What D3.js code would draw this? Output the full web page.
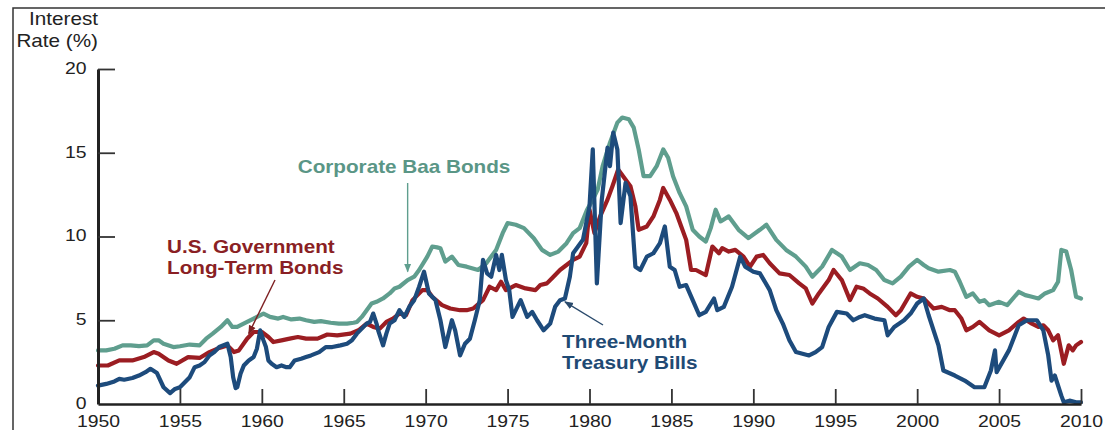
<!DOCTYPE html>
<html>
<head>
<meta charset="utf-8">
<script src="https://d3js.org/d3.v7.min.js"></script>
<style>
  body { margin: 0; background: #fff; }
  svg { display: block; font-family: Arial, "Liberation Sans", Helvetica, sans-serif; }
  .axis text { font-size: 17px; fill: #222; }
  .rate { fill: none; stroke-width: 4.2; stroke-linejoin: round; stroke-linecap: round; }
  .note { font-weight: bold; font-size: 18px; }
</style>
</head>
<body>
<script>
// yield series, [year, percent]
var baa = [[1950.0,3.2],[1950.5,3.2],[1951.0,3.3],[1951.5,3.5],[1952.0,3.5],[1952.5,3.45],[1953.0,3.5],[1953.4,3.8],[1953.7,3.8],[1954.0,3.6],[1954.6,3.4],[1955.0,3.45],[1955.6,3.55],[1956.2,3.5],[1956.6,3.9],[1957.0,4.2],[1957.5,4.6],[1957.9,5.0],[1958.2,4.6],[1958.5,4.6],[1959.1,4.9],[1959.5,5.1],[1960.1,5.4],[1960.5,5.2],[1961.0,5.1],[1961.3,5.2],[1961.8,5.05],[1962.3,5.1],[1962.7,5.0],[1963.2,4.9],[1963.6,4.95],[1964.2,4.85],[1964.7,4.8],[1965.2,4.8],[1965.6,4.85],[1965.8,4.9],[1966.1,5.2],[1966.4,5.6],[1966.7,6.0],[1967.0,6.1],[1967.4,6.3],[1967.8,6.6],[1968.1,6.9],[1968.4,7.0],[1968.9,7.4],[1969.3,7.6],[1969.6,8.0],[1970.1,8.8],[1970.4,9.4],[1970.7,9.35],[1970.9,9.3],[1971.2,8.5],[1971.6,8.8],[1972.0,8.3],[1972.5,8.2],[1973.2,8.0],[1973.7,8.4],[1974.3,9.2],[1974.7,10.2],[1975.0,10.8],[1975.5,10.7],[1976.0,10.5],[1976.6,9.9],[1977.1,9.2],[1977.6,8.9],[1978.1,9.1],[1978.6,9.6],[1979.0,10.2],[1979.4,10.5],[1979.85,11.6],[1980.2,12.2],[1980.5,12.8],[1980.8,14.2],[1981.25,15.6],[1981.7,16.8],[1982.0,17.1],[1982.4,17.0],[1982.7,16.5],[1983.0,15.2],[1983.3,13.6],[1983.7,13.6],[1984.1,14.2],[1984.5,15.2],[1984.8,14.7],[1985.1,13.6],[1985.5,12.6],[1985.9,11.8],[1986.3,10.4],[1986.7,10.0],[1987.1,9.7],[1987.4,10.5],[1987.7,11.6],[1988.0,10.9],[1988.5,11.2],[1989.1,10.4],[1989.7,9.9],[1990.4,10.4],[1990.8,10.7],[1991.4,9.8],[1992.0,9.2],[1992.6,8.8],[1993.2,8.2],[1993.6,7.6],[1994.2,8.2],[1994.8,9.2],[1995.4,8.8],[1995.9,8.0],[1996.5,8.4],[1997.0,8.3],[1997.5,8.0],[1998.0,7.4],[1998.5,7.2],[1999.0,7.6],[1999.5,8.2],[2000.0,8.6],[2000.4,8.3],[2000.7,8.1],[2001.3,7.9],[2002.0,8.0],[2002.3,7.9],[2002.6,7.3],[2003.0,6.4],[2003.4,6.6],[2003.8,6.1],[2004.1,6.2],[2004.4,5.9],[2005.0,6.1],[2005.5,5.9],[2006.2,6.7],[2006.6,6.5],[2007.0,6.4],[2007.4,6.3],[2007.8,6.6],[2008.3,6.8],[2008.6,7.3],[2008.8,9.2],[2009.1,9.1],[2009.4,8.0],[2009.7,6.4],[2010.0,6.3]];

var govt = [[1950.0,2.3],[1950.6,2.3],[1951.3,2.6],[1952.1,2.6],[1952.8,2.8],[1953.4,3.1],[1953.7,3.0],[1954.3,2.6],[1954.8,2.4],[1955.5,2.8],[1956.2,2.75],[1956.8,3.1],[1957.4,3.35],[1957.9,3.5],[1958.3,3.1],[1958.6,3.2],[1959.1,3.9],[1959.5,4.3],[1960.0,4.3],[1960.4,4.0],[1960.7,3.7],[1961.2,3.8],[1961.7,3.9],[1962.2,4.0],[1962.7,3.9],[1963.4,3.9],[1964.0,4.15],[1964.6,4.1],[1965.4,4.2],[1965.9,4.4],[1966.4,4.8],[1966.8,4.6],[1967.2,4.5],[1967.6,4.9],[1968.0,5.1],[1968.4,5.4],[1968.8,5.3],[1969.2,6.2],[1969.8,6.8],[1970.1,6.8],[1970.4,6.4],[1971.0,5.9],[1971.5,5.7],[1972.1,5.6],[1972.5,5.6],[1972.9,5.7],[1973.5,6.2],[1973.9,7.0],[1974.3,6.8],[1974.6,7.3],[1974.9,6.8],[1975.5,7.1],[1976.1,6.9],[1976.7,6.8],[1977.0,7.1],[1977.4,7.2],[1977.8,7.6],[1978.2,8.0],[1978.6,8.3],[1979.0,8.6],[1979.4,8.8],[1979.8,9.6],[1980.0,11.6],[1980.3,10.2],[1980.65,11.2],[1981.1,12.2],[1981.4,13.0],[1981.75,14.0],[1982.05,13.6],[1982.5,13.0],[1982.8,11.8],[1983.0,10.4],[1983.5,10.6],[1983.9,11.2],[1984.3,12.2],[1984.5,12.9],[1984.9,12.2],[1985.3,11.4],[1985.6,10.6],[1985.9,9.8],[1986.2,8.0],[1986.5,8.0],[1987.1,7.7],[1987.5,9.4],[1987.9,9.0],[1988.1,9.3],[1988.5,9.1],[1988.9,9.2],[1989.4,8.8],[1989.8,8.2],[1990.2,8.8],[1990.6,8.9],[1991.0,8.4],[1991.6,7.8],[1992.2,7.7],[1992.8,7.2],[1993.2,6.9],[1993.6,6.0],[1994.0,6.6],[1994.6,7.4],[1994.9,8.0],[1995.4,7.4],[1995.9,6.2],[1996.3,7.0],[1996.7,6.9],[1997.1,6.6],[1997.6,6.3],[1998.2,5.8],[1998.7,5.3],[1999.0,5.6],[1999.6,6.6],[2000.0,6.4],[2000.4,6.3],[2001.0,5.7],[2001.5,5.8],[2002.0,5.6],[2002.3,5.6],[2002.7,5.1],[2003.0,4.4],[2003.4,4.6],[2003.8,4.9],[2004.4,4.4],[2005.0,4.1],[2005.6,4.4],[2006.2,4.9],[2006.5,5.1],[2007.0,4.8],[2007.4,4.6],[2007.7,4.7],[2008.0,4.4],[2008.3,3.8],[2008.6,4.1],[2008.95,2.4],[2009.25,3.5],[2009.5,3.2],[2009.7,3.5],[2010.0,3.7]];

var tbill = [[1950.0,1.1],[1950.5,1.2],[1951.0,1.35],[1951.3,1.5],[1951.6,1.45],[1952.1,1.55],[1952.5,1.7],[1952.9,1.9],[1953.2,2.1],[1953.6,1.85],[1954.0,1.0],[1954.4,0.65],[1954.7,0.9],[1955.0,1.0],[1955.3,1.3],[1955.6,1.6],[1955.9,2.2],[1956.2,2.3],[1956.5,2.5],[1956.8,2.9],[1957.1,3.1],[1957.4,3.4],[1957.9,3.6],[1958.1,2.8],[1958.25,1.6],[1958.4,0.95],[1958.5,1.0],[1958.7,1.8],[1958.9,2.3],[1959.2,2.6],[1959.5,2.8],[1959.7,3.3],[1959.9,4.4],[1960.1,3.8],[1960.25,3.4],[1960.4,2.6],[1960.6,2.4],[1960.9,2.2],[1961.2,2.3],[1961.5,2.2],[1961.7,2.2],[1962.0,2.6],[1962.4,2.7],[1962.7,2.8],[1963.0,2.9],[1963.5,3.1],[1963.9,3.4],[1964.3,3.4],[1964.8,3.5],[1965.2,3.6],[1965.5,3.8],[1965.8,4.2],[1966.1,4.5],[1966.4,4.8],[1966.6,4.9],[1966.8,5.4],[1967.0,4.8],[1967.1,4.4],[1967.4,3.5],[1967.6,4.2],[1967.8,4.8],[1968.1,5.0],[1968.4,5.6],[1968.7,5.2],[1969.0,5.8],[1969.3,6.2],[1969.6,7.0],[1969.9,7.9],[1970.2,6.6],[1970.6,6.2],[1970.9,5.0],[1971.2,3.4],[1971.4,4.2],[1971.6,5.0],[1971.8,4.4],[1972.1,2.9],[1972.4,3.6],[1972.7,3.9],[1973.0,5.0],[1973.3,6.2],[1973.5,8.6],[1973.75,7.8],[1974.0,7.6],[1974.3,8.9],[1974.5,8.0],[1974.65,8.9],[1974.9,7.4],[1975.1,6.8],[1975.3,5.2],[1975.5,5.6],[1975.8,6.2],[1976.2,5.2],[1976.5,5.5],[1976.8,5.0],[1977.2,4.4],[1977.6,4.8],[1977.9,5.8],[1978.2,6.2],[1978.5,6.3],[1978.8,7.6],[1979.0,9.0],[1979.3,9.4],[1979.6,9.8],[1980.0,11.8],[1980.2,15.2],[1980.45,7.2],[1980.75,12.2],[1981.1,15.3],[1981.25,14.2],[1981.45,16.2],[1981.7,15.2],[1981.9,10.8],[1982.2,13.2],[1982.5,12.4],[1982.8,8.2],[1983.1,8.0],[1983.5,8.8],[1983.9,9.0],[1984.3,9.6],[1984.6,10.6],[1984.9,8.2],[1985.2,8.0],[1985.5,7.0],[1985.9,7.1],[1986.3,6.2],[1986.7,5.3],[1987.1,5.5],[1987.6,6.3],[1987.8,5.6],[1988.2,5.8],[1988.7,7.0],[1989.2,8.8],[1989.5,8.2],[1990.0,7.9],[1990.4,7.8],[1991.0,6.8],[1991.4,5.6],[1991.8,4.8],[1992.2,3.8],[1992.6,3.1],[1993.0,3.0],[1993.4,2.9],[1993.8,3.1],[1994.2,3.4],[1994.6,4.6],[1995.1,5.5],[1995.7,5.4],[1996.1,5.0],[1996.5,5.2],[1996.8,5.3],[1997.4,5.1],[1998.0,5.0],[1998.2,4.1],[1998.6,4.6],[1999.2,5.0],[1999.6,5.4],[2000.0,6.0],[2000.4,6.3],[2000.7,5.3],[2001.3,3.5],[2001.6,2.0],[2002.3,1.7],[2002.9,1.4],[2003.5,1.0],[2004.1,1.0],[2004.5,2.0],[2004.75,3.2],[2004.85,1.9],[2005.6,3.2],[2006.2,4.7],[2006.7,5.0],[2007.3,5.0],[2007.7,4.4],[2008.0,2.9],[2008.2,1.4],[2008.4,1.7],[2008.8,0.5],[2008.95,0.1],[2009.3,0.2],[2009.7,0.1],[2010.0,0.1]];

var yearTicks = [1950, 1955, 1960, 1965, 1970, 1975, 1980, 1985, 1990, 1995, 2000, 2005, 2010];
var rateTicks = [0, 5, 10, 15, 20];

var W = 1114, H = 430;
var svg = d3.select("body").append("svg").attr("width", W).attr("height", H);

var x = d3.scaleLinear().domain([1950, 2010]).range([98, 1081]);
var y = d3.scaleLinear().domain([0, 20]).range([404, 69]);

// frame (left and top edges only)
svg.append("path").attr("d", "M13,430V8H1105")
   .attr("fill", "none").attr("stroke", "#333").attr("stroke-width", 1.5);

var line = d3.line().x(function(d){ return x(d[0]); }).y(function(d){ return y(d[1]); });

var series = [
  {data: baa, color: "#5f9e8e"},
  {data: govt, color: "#9b1d22"},
  {data: tbill, color: "#1d4b7c"}
];
series.forEach(function(s){
  svg.append("path").datum(s.data).attr("class", "rate")
     .attr("stroke", s.color).attr("d", line);
});

// axes
var xAxis = svg.append("g").attr("class", "axis")
  .attr("transform", "translate(0," + y(0) + ")")
  .call(d3.axisBottom(x).tickValues(yearTicks).tickFormat(d3.format("d"))
        .tickSizeInner(-15).tickSizeOuter(0).tickPadding(11));
xAxis.select(".domain").attr("stroke", "#222").attr("stroke-width", 2.6);
xAxis.selectAll(".tick line").attr("stroke", "#333").attr("stroke-width", 1.8);
xAxis.selectAll(".tick").filter(function(d){ return d === 1950; }).select("line").remove();
xAxis.selectAll("text").attr("transform", "scale(1.14,1)");

var yAxis = svg.append("g").attr("class", "axis")
  .attr("transform", "translate(" + x(1950) + ",0)")
  .call(d3.axisLeft(y).tickValues(rateTicks)
        .tickSizeInner(-17).tickSizeOuter(0).tickPadding(10));
yAxis.select(".domain").attr("stroke", "#222").attr("stroke-width", 3);
yAxis.selectAll(".tick line").attr("stroke", "#333").attr("stroke-width", 1.8);
yAxis.selectAll(".tick").filter(function(d){ return d === 0; }).select("line").remove();
yAxis.selectAll("text").attr("transform", "scale(1.14,1)").attr("dy", "0.25em");

// axis title
function stretchText(tx, ty, str, anchor, cls, fill, size){
  return svg.append("text")
    .attr("transform", "translate(" + tx + "," + ty + ") scale(1.15,1)")
    .attr("text-anchor", anchor).attr("class", cls)
    .attr("fill", fill).style("font-size", size + "px").text(str);
}
stretchText(98, 25, "Interest", "end", "", "#222", 18);
stretchText(98, 47, "Rate (%)", "end", "", "#222", 18);

// annotations
var defs = svg.append("defs");
function marker(id, color){
  defs.append("marker").attr("id", id).attr("viewBox", "0 0 10 10")
    .attr("refX", 9).attr("refY", 5).attr("markerWidth", 9).attr("markerHeight", 9)
    .attr("markerUnits", "userSpaceOnUse").attr("orient", "auto")
    .append("path").attr("d", "M0,1L10,5L0,9Z").attr("fill", color);
}
marker("mBaa", "#5f9e8e");
marker("mGov", "#7e1f22");
marker("mTb", "#2a4a6c");

function arrow(x1, y1, x2, y2, color, m){
  svg.append("line").attr("x1", x1).attr("y1", y1).attr("x2", x2).attr("y2", y2)
    .attr("stroke", color).attr("stroke-width", 1.4).attr("marker-end", "url(#" + m + ")");
}

stretchText(404, 173, "Corporate Baa Bonds", "middle", "note", "#5a9686", 18);
arrow(x(1968.9), 183, x(1968.9), y(7.9), "#5f9e8e", "mBaa");

stretchText(167, 253, "U.S. Government", "start", "note", "#8a1f24", 18);
stretchText(167, 274, "Long-Term Bonds", "start", "note", "#8a1f24", 18);
arrow(275, 280, x(1959.2), y(4.2), "#7e1f22", "mGov");

stretchText(562, 348, "Three-Month", "start", "note", "#1f4a74", 18);
stretchText(562, 369, "Treasury Bills", "start", "note", "#1f4a74", 18);
arrow(603, 325, x(1978.5), y(6.1), "#2a4a6c", "mTb");
</script>
</body>
</html>
